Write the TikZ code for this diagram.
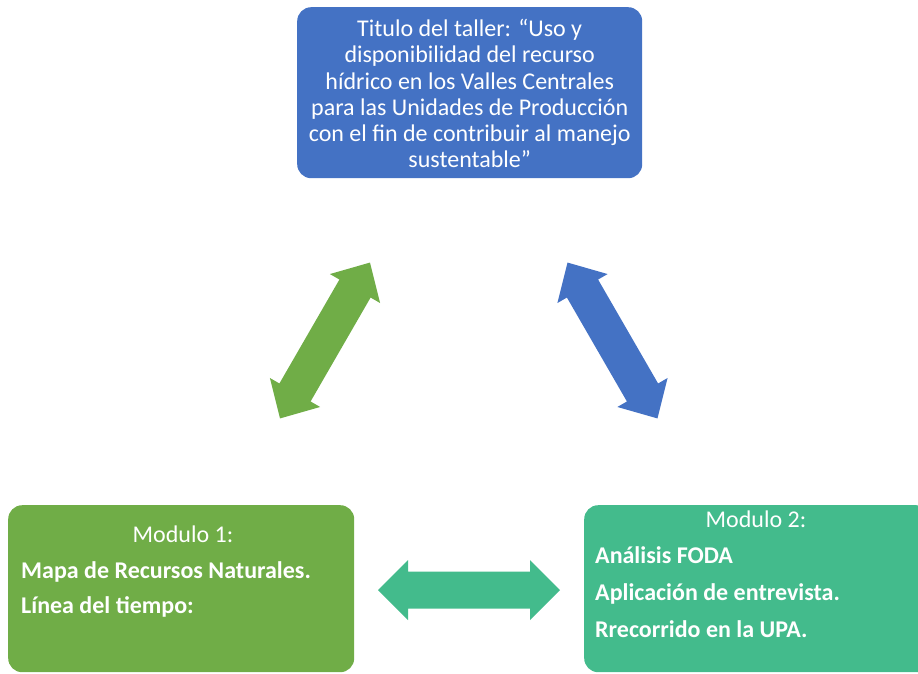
\documentclass[tikz,border=0pt]{standalone}
\usepackage{fontspec}
\setmainfont{Carlito}
\definecolor{cblue}{HTML}{4472C4}
\definecolor{cgreen}{HTML}{70AD47}
\definecolor{cteal}{HTML}{43BB8C}
\begin{document}
\begin{tikzpicture}[x=1pt,y=-1pt,
  box/.style={rounded corners=14pt, inner sep=0pt, anchor=north west},
  txt/.style={text=white, inner sep=0pt, font=\fontsize{24}{26.2}\selectfont},
  btxt/.style={text=white, inner sep=0pt, anchor=base west, font=\fontsize{24}{26.2}\selectfont\bfseries}]
\useasboundingbox (0,0) rectangle (918,673);
\clip (0,0) rectangle (918,673);
% top box
\node[box, fill=cblue, minimum width=345pt, minimum height=171pt] (top) at (297,7) {};
\node[txt, align=center] (toptxt) at ([yshift=-1pt]top.center) {Titulo del taller: “Uso y\\disponibilidad del recurso\\hídrico en los Valles Centrales\\para las Unidades de Producción\\con el fin de contribuir al manejo\\sustentable”};
% module 1
\node[box, fill=cgreen, minimum width=346pt, minimum height=167pt] (m1) at (8,505) {};
\node[txt, anchor=base] (m1t) at (183,542) {Modulo 1:};
\node[btxt] (m1a) at (21,578) {Mapa de Recursos Naturales.};
\node[btxt] (m1b) at (21,613) {Línea del tiempo:};
% module 2
\node[box, fill=cteal, minimum width=346pt, minimum height=167pt] (m2) at (584,505) {};
\node[txt, anchor=base] (m2t) at (756,527) {Modulo 2:};
\node[btxt] (m2a) at (595,563) {Análisis FODA};
\node[btxt] (m2b) at (595,600) {Aplicación de entrevista.};
\node[btxt] (m2c) at (595,637) {Rrecorrido en la UPA.};
% arrows
\begin{scope}[shift={(325,340.5)}, x=1pt, y=1pt, rotate=60]
  \fill[cgreen] (-90,0) -- (-60,29) -- (-60,18) -- (60,18) -- (60,29) -- (90,0) -- (60,-29) -- (60,-18) -- (-60,-18) -- (-60,-29) -- cycle;
\end{scope}
\begin{scope}[shift={(612.5,340.5)}, x=1pt, y=1pt, rotate=-60]
  \fill[cblue] (-90,0) -- (-60,29) -- (-60,18) -- (60,18) -- (60,29) -- (90,0) -- (60,-29) -- (60,-18) -- (-60,-18) -- (-60,-29) -- cycle;
\end{scope}
\begin{scope}[shift={(469,590)}, x=1pt, y=1pt]
  \fill[cteal] (-91,0) -- (-61,30) -- (-61,18.5) -- (61,18.5) -- (61,30) -- (91,0) -- (61,-30) -- (61,-18.5) -- (-61,-18.5) -- (-61,-30) -- cycle;
\end{scope}
\end{tikzpicture}
\end{document}
